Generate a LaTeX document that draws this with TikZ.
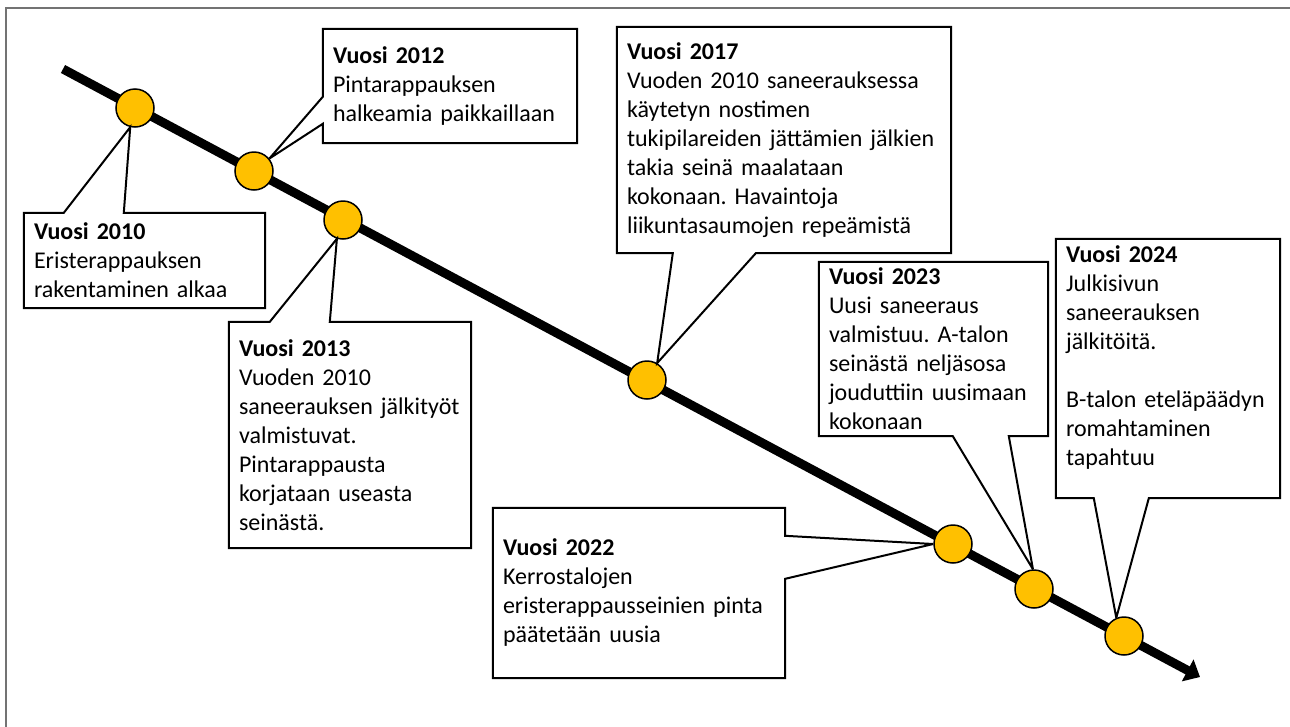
\documentclass[tikz,border=0pt]{standalone}
\usepackage{fontspec}
\setmainfont{Carlito}
\usetikzlibrary{arrows.meta}
\definecolor{dotgold}{HTML}{FFC000}
\tikzset{box/.style={align=left, inner xsep=10pt, inner ysep=0pt},
         dot/.style={circle, draw, line width=1.5pt, fill=dotgold, minimum size=38pt, inner sep=0pt},
         callout/.style={draw, line width=2pt, line join=miter, miter limit=4}
}

\begin{document}
\begin{tikzpicture}[x=1pt, y=-1pt, font=\fontsize{24}{29}\selectfont\frenchspacing]
        \useasboundingbox (0,0) rectangle (1290,726);
        \clip (0,0) rectangle (1290,726);
        \draw [black!55, line width=1.5pt] (6,8) rectangle (1300,740);
        % timeline
        \coordinate (start) at (63,69);
        \coordinate (end) at (1200,677);
        \draw [line width=9pt, -{Triangle[length=14pt, width=24pt]}] (start) -- (end);
        \node [dot] (c2010) at (135,108) {};
        \node [dot] (c2012) at (254,171) {};
        \node [dot] (c2013) at (343,220) {};
        \node [dot] (c2017) at (647,380) {};
        \node [dot] (c2022) at (953,544) {};
        \node [dot] (c2023) at (1034,589) {};
        \node [dot] (c2024) at (1124,636) {};
        % boxes
        \node [box, text width=221pt, minimum width=241pt, minimum height=95pt] (b2010) at (144.5,260.5) {\textbf{Vuosi 2010}\\Eristerappauksen\\rakentaminen alkaa};
        \node [box, text width=234pt, minimum width=254pt, minimum height=114pt] (b2012) at (450,86) {\textbf{Vuosi 2012}\\Pintarappauksen\\halkeamia paikkaillaan};
        \node [box, text width=222pt, minimum width=242pt, minimum height=226pt] (b2013) at (350,435) {\textbf{Vuosi 2013}\\Vuoden 2010\\saneerauksen jälkityöt\\valmistuvat.\\Pintarappausta\\korjataan useasta\\seinästä.};
        \node [box, text width=314pt, minimum width=334pt, minimum height=226pt] (b2017) at (784,140) {\textbf{Vuosi 2017}\\Vuoden 2010 saneerauksessa\\käytetyn nostimen\\tukipilareiden jättämien jälkien\\takia seinä maalataan\\kokonaan. Havaintoja\\liikuntasaumojen repeämistä};
        \node [box, text width=272pt, minimum width=292pt, minimum height=170pt] (b2022) at (639,593) {\textbf{Vuosi 2022}\\Kerrostalojen\\eristerappausseinien pinta\\päätetään uusia};
        \node [box, text width=209pt, minimum width=229pt, minimum height=174pt] (b2023) at (933.5,349) {\textbf{Vuosi 2023}\\Uusi saneeraus\\valmistuu. A-talon\\seinästä neljäsosa\\jouduttiin uusimaan\\kokonaan};
        \node [box, text width=204pt, minimum width=224pt, minimum height=259pt] (b2024) at (1168,368.5) {\textbf{Vuosi 2024}\\Julkisivun\\saneerauksen\\jälkitöitä.\\[29pt]B-talon eteläpäädyn\\romahtaminen\\tapahtuu\\[-3pt]\mbox{}};
        % callout outlines
        \draw [callout] (b2010.north west) -- ([xshift=40pt]b2010.north west) -- (c2010.256) -- ([xshift=100pt]b2010.north west) -- (b2010.north east) -- (b2010.south east) -- (b2010.south west) -- cycle;
        \draw [callout] (b2012.north west) -- (b2012.north east) -- (b2012.south east) -- (b2012.south west) -- ([yshift=-95pt]b2012.north west) -- (c2012.39) -- ([yshift=-68pt]b2012.north west) -- cycle;
        \draw [callout] (b2013.north west) -- ([xshift=41pt]b2013.north west) -- (c2013.252) -- ([xshift=101pt]b2013.north west) -- (b2013.north east) -- (b2013.south east) -- (b2013.south west) -- cycle;
        \draw [callout] (b2017.north west) -- (b2017.north east) -- (b2017.south east) -- ([xshift=139pt]b2017.south west) -- (c2017.59) -- ([xshift=56pt]b2017.south west) -- (b2017.south west) -- cycle;
        \draw [callout] (b2022.north west) -- (b2022.north east) -- ([yshift=-28pt]b2022.north east) -- (c2022.180) -- ([yshift=-71pt]b2022.north east) -- (b2022.south east) -- (b2022.south west) -- cycle;
        \draw [callout] (b2023.north west) -- (b2023.north east) -- (b2023.south east) -- ([xshift=190pt]b2023.south west) -- (c2023.93) -- ([xshift=134pt]b2023.south west) -- (b2023.south west) -- cycle;
        \draw [callout] (b2024.north west) -- (b2024.north east) -- (b2024.south east) -- ([xshift=93pt]b2024.south west) -- (c2024.113) -- ([xshift=38pt]b2024.south west) -- (b2024.south west) -- cycle;
      \end{tikzpicture}
\end{document}
